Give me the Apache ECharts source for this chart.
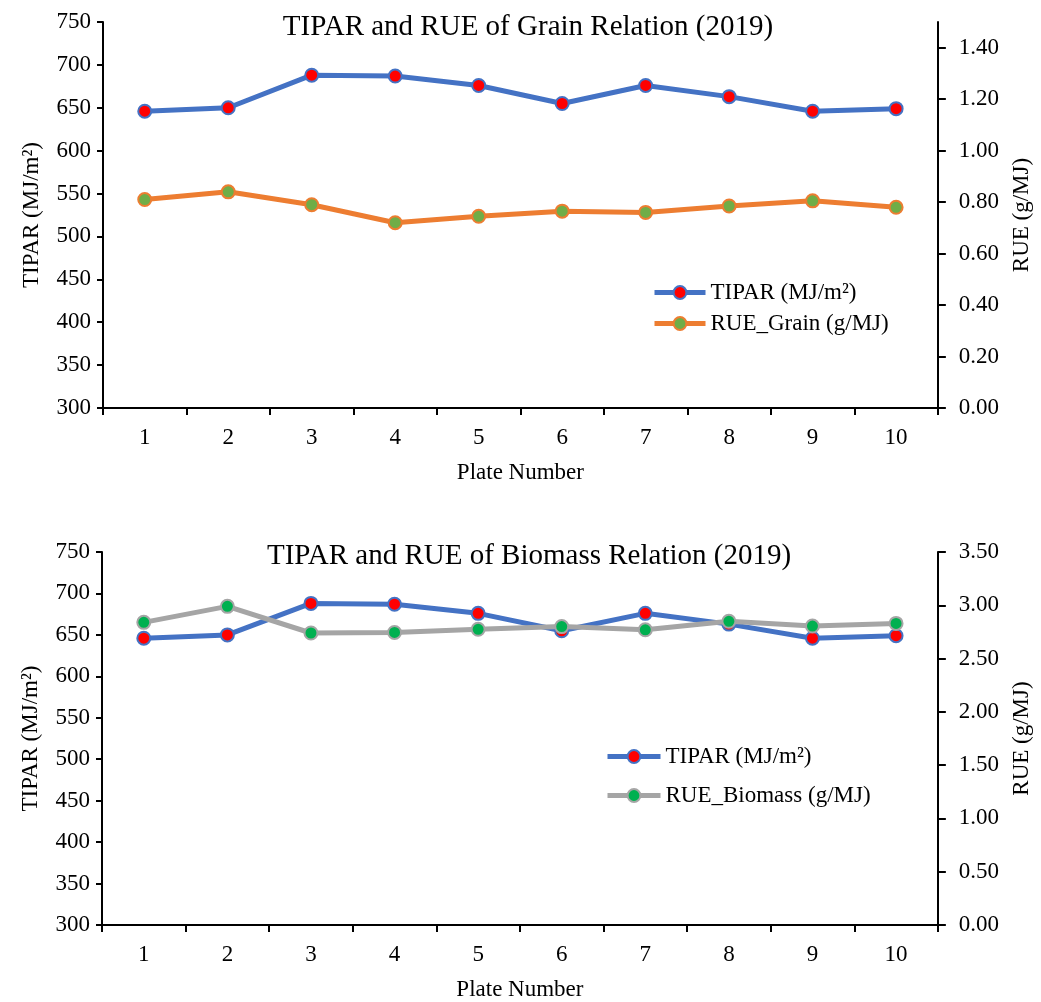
<!DOCTYPE html>
<html>
<head>
<meta charset="utf-8">
<script src="https://cdn.jsdelivr.net/npm/echarts@6/dist/echarts.min.js"></script>
<style>
html,body{margin:0;padding:0;background:#fff;}
#chart{width:1041px;height:1002px;}
</style>
</head>
<body>
<div id="chart"></div>
<script>
const plates = ['1','2','3','4','5','6','7','8','9','10'];
const tipar = [646, 650, 688, 687, 676, 655, 676, 663, 646, 649];
const rueGrain = [0.81, 0.84, 0.79, 0.72, 0.745, 0.765, 0.76, 0.785, 0.805, 0.78];
const rueBiomass = [2.84, 2.99, 2.74, 2.745, 2.775, 2.80, 2.77, 2.85, 2.805, 2.83];
const tiparTicks = [300, 350, 400, 450, 500, 550, 600, 650, 700, 750];
const grainTicks = [0, 0.2, 0.4, 0.6, 0.8, 1.0, 1.2, 1.4];
const biomassTicks = [0, 0.5, 1.0, 1.5, 2.0, 2.5, 3.0, 3.5];

const FONT = 'Liberation Serif';
const FS = 23;
const BLUE = '#4472C4', ORANGE = '#ED7D31', GRAY = '#A5A5A5';
const RED = '#FF0000', GREEN1 = '#70AD47', GREEN2 = '#00B050';

const axisLine = {show: true, lineStyle: {color: '#000', width: 2}};
const axisTick = {show: true, length: 6, lineStyle: {color: '#000', width: 2}};
const lbl = {color: '#000', fontFamily: FONT, fontSize: FS};
const nameStyle = {color: '#000', fontFamily: FONT, fontSize: FS};

function xAxis(gi) {
  return {
    type: 'category', gridIndex: gi, data: plates, boundaryGap: true,
    name: 'Plate Number', nameLocation: 'middle', nameGap: 53,
    nameTextStyle: nameStyle,
    axisLine: axisLine, axisTick: {show: true, length: 7, lineStyle: {color: '#000', width: 2}},
    axisLabel: Object.assign({margin: 18}, lbl), splitLine: {show: false}
  };
}
function leftAxis(gi) {
  return {
    type: 'value', gridIndex: gi, position: 'left', min: 300, max: 750, interval: 50,
    name: 'TIPAR (MJ/m²)', nameLocation: 'middle', nameGap: 60, nameRotate: 90,
    nameTextStyle: nameStyle,
    axisLine: axisLine, axisTick: axisTick,
    axisLabel: Object.assign({margin: 12, customValues: tiparTicks}, lbl),
    splitLine: {show: false}
  };
}
function rightAxis(gi, max, interval, ticks) {
  return {
    type: 'value', gridIndex: gi, position: 'right', min: 0, max: max, interval: interval,
    name: 'RUE (g/MJ)', nameLocation: 'middle', nameGap: 71, nameRotate: 90,
    nameTextStyle: nameStyle,
    axisLine: axisLine,
    axisTick: {show: true, length: 8, lineStyle: {color: '#000', width: 2}, customValues: ticks},
    axisLabel: Object.assign({margin: 21, customValues: ticks, formatter: v => Number(v).toFixed(2)}, lbl),
    splitLine: {show: false}
  };
}
function lineSeries(name, data, xi, yi, lineColor, dotColor) {
  return {
    name: name, type: 'line', xAxisIndex: xi, yAxisIndex: yi, data: data,
    symbol: 'circle', symbolSize: 13,
    lineStyle: {color: lineColor, width: 5},
    itemStyle: {color: dotColor, borderColor: lineColor, borderWidth: 2},
    z: yi
  };
}

const chart = echarts.init(document.getElementById('chart'), null, {renderer: 'canvas'});
chart.setOption({
  animation: false,
  backgroundColor: '#fff',
  title: [
    {text: 'TIPAR and RUE of Grain Relation (2019)', left: 523, top: 8, textAlign: 'center',
     textStyle: {color: '#000', fontFamily: FONT, fontSize: 29, fontWeight: 'normal'}},
    {text: 'TIPAR and RUE of Biomass Relation (2019)', left: 524, top: 537, textAlign: 'center',
     textStyle: {color: '#000', fontFamily: FONT, fontSize: 29, fontWeight: 'normal'}}
  ],
  legend: [
    {data: ['TIPAR (MJ/m²)', 'RUE_Grain (g/MJ)'], orient: 'vertical', left: 652, top: 281, padding: 0,
     itemWidth: 51, itemHeight: 16, itemGap: 8, lineStyle: {width: 5},
     textStyle: {color: '#000', fontFamily: FONT, fontSize: FS}},
    {data: ['TIPAR (MJ/m²)', 'RUE_Biomass (g/MJ)'], orient: 'vertical', left: 605, top: 745, padding: 0,
     itemWidth: 53, itemHeight: 16, itemGap: 16, lineStyle: {width: 5},
     textStyle: {color: '#000', fontFamily: FONT, fontSize: FS}}
  ],
  grid: [
    {left: 103, right: 98, top: 22, height: 386, containLabel: false},
    {left: 102, right: 98, top: 552, height: 374, containLabel: false}
  ],
  xAxis: [xAxis(0), xAxis(1)],
  yAxis: [leftAxis(0), rightAxis(0, 1.5, 0.1, grainTicks), leftAxis(1), rightAxis(1, 3.5, 0.5, biomassTicks)],
  series: [
    lineSeries('TIPAR (MJ/m²)', tipar, 0, 0, BLUE, RED),
    lineSeries('RUE_Grain (g/MJ)', rueGrain, 0, 1, ORANGE, GREEN1),
    lineSeries('TIPAR (MJ/m²)', tipar, 1, 2, BLUE, RED),
    lineSeries('RUE_Biomass (g/MJ)', rueBiomass, 1, 3, GRAY, GREEN2)
  ]
});
</script>
</body>
</html>
